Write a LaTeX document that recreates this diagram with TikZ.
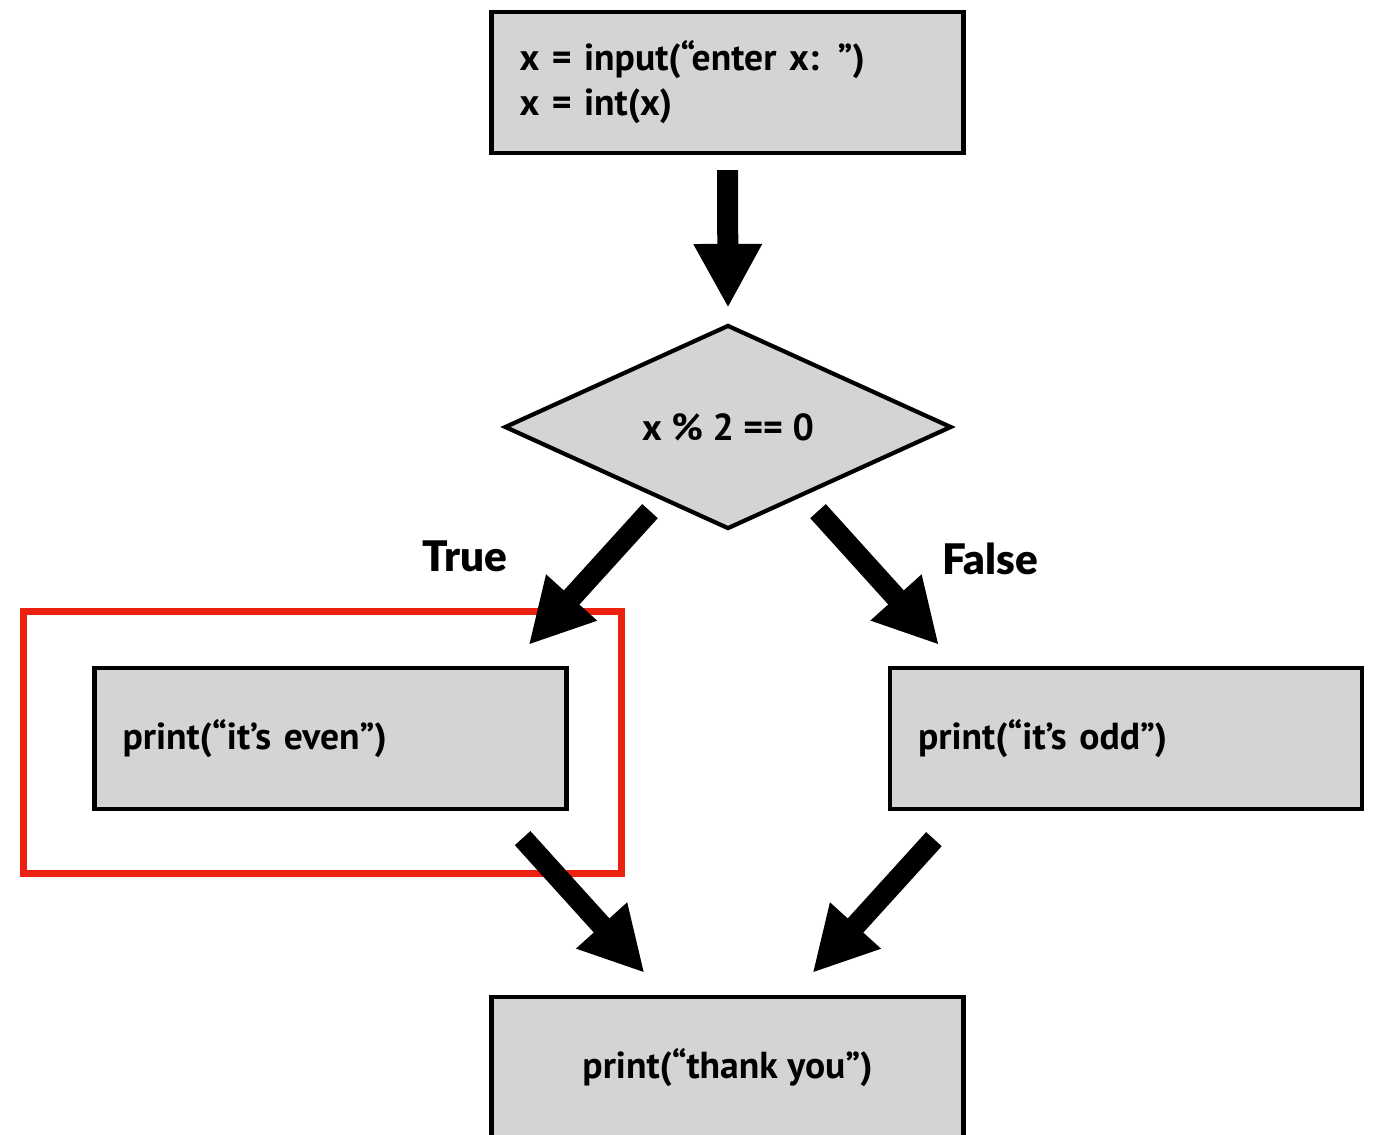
\documentclass[tikz,border=0pt]{standalone}
\usepackage{fontspec}
\setmainfont{PT Sans}
\newfontfamily\heavyfont{Lato Black}
\usetikzlibrary{shapes.geometric,arrows.meta}
\definecolor{boxgray}{RGB}{212,212,212}
\definecolor{hlred}{RGB}{236,33,15}

\begin{document}
\begin{tikzpicture}[>={Triangle[length=0.64cm,width=0.64cm]}]
	\tikzstyle{stmt}=[rectangle,draw=black,fill=boxgray,line width=1.2pt,
	minimum width=4.72cm,minimum height=1.41cm,
	inner xsep=0.28cm,font=\bfseries\fontsize{10.7}{12.8}\selectfont
	]
	\tikzstyle{l}=[stmt,text width=4.16cm,align=left];
	\tikzstyle{c}=[stmt,align=center];
	\tikzstyle{test}=[diamond,draw=black,fill=boxgray,line width=1.2pt,
	minimum width=4.47cm,minimum height=2.04cm,inner sep=0pt,
	font=\bfseries\fontsize{10.7}{12}\selectfont];
	\tikzstyle{flow}=[->,line width=0.21cm];
	\tikzstyle{lbl}=[font=\heavyfont\fontsize{12}{14}\selectfont];
	\tikzstyle{hl}=[rectangle,draw=hlred,line width=2pt,
	minimum width=5.98cm,minimum height=2.62cm];

\useasboundingbox (0,0) rectangle (13.75,-11.34);

\node[hl](mark) at (3.225,-7.425){};

\node[l](read) at (7.275,-0.825){x = input(“enter x: ”)\\x = int(x)};
\node[test](cond) at (7.28,-4.27){x \% 2 == 0};
\node[l](even) at (3.305,-7.385){print(“it’s even”)};
\node[l](odd) at (11.26,-7.385){print(“it’s odd”)};
\node[c](thanks) at (7.275,-10.675){print(“thank you”)};

\node[lbl](yes) at (4.65,-5.56){True};
\node[lbl](no) at (9.90,-5.59){False};

\draw[flow] ([yshift=-0.15cm]read.south) -- ([yshift=0.15cm]cond.north);
\draw[flow] ([xshift=-0.78cm,yshift=0.2cm]cond.south) -- ([xshift=-0.40cm,yshift=0.21cm]even.north east);
\draw[flow] ([xshift=0.90cm,yshift=0.2cm]cond.south) -- ([xshift=0.51cm,yshift=0.21cm]odd.north west);
\draw[flow] ([xshift=-0.46cm,yshift=-0.27cm]even.south east) -- ([xshift=-0.83cm,yshift=0.22cm]thanks.north);
\draw[flow] ([xshift=0.46cm,yshift=-0.28cm]odd.south west) -- ([xshift=0.85cm,yshift=0.22cm]thanks.north);

\end{tikzpicture}
\end{document}
